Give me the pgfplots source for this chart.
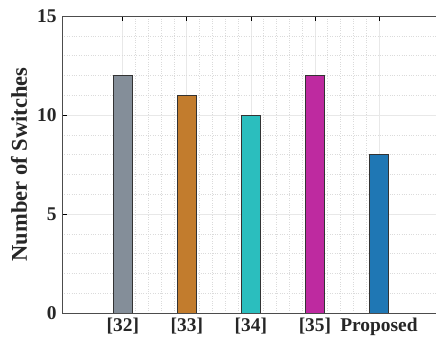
\documentclass[border=0pt]{standalone}
\usepackage{fontspec}
\setmainfont{Liberation Serif}
\usepackage{pgfplots}
\pgfplotsset{compat=1.18}
\definecolor{c32}{RGB}{132,142,153}
\definecolor{c33}{RGB}{194,124,45}
\definecolor{c34}{RGB}{43,190,190}
\definecolor{c35}{RGB}{190,42,160}
\definecolor{cprop}{RGB}{31,119,180}
\begin{document}
\begin{tikzpicture}
\begin{axis}[
  scale only axis,
  width=381bp, height=297bp,
  xmin=0.05, xmax=6, ymin=0, ymax=15,
  xtick={1,2,3,4,5},
  xticklabels={{[32]},{[33]},{[34]},{[35]},Proposed},
  ytick={0,5,10,15},
  minor x tick num=4,
  minor y tick num=4,
  grid=both,
  major grid style={draw=black!9, line width=0.8pt},
  minor grid style={draw=black!14, dotted, line width=0.5pt},
  axis line style={draw=black!70, line width=0.8pt},
  tick style={draw=black, line width=0.8pt},
  major tick length=5bp,
  minor tick length=0pt,
  tick align=inside,
  xtick pos=both, ytick pos=both,
  ticklabel style={font=\fontsize{19.5}{22}\selectfont\bfseries, text=black!85},
  /pgf/number format/assume math mode=true,
  ylabel={Number of Switches},
  every axis y label/.style={at={(rel axis cs:0,0.5)}, xshift=-43bp, rotate=90, anchor=center,
    font=\fontsize{22.6}{26}\selectfont\bfseries, text=black!85},
  xticklabel style={yshift=-2bp},
  yticklabel style={xshift=-2bp},
  bar width=19bp,
]
\addplot[ybar, fill=c32, draw=black!80, line width=0.7pt] coordinates {(1,12)};
\addplot[ybar, fill=c33, draw=black!80, line width=0.7pt] coordinates {(2,11)};
\addplot[ybar, fill=c34, draw=black!80, line width=0.7pt] coordinates {(3,10)};
\addplot[ybar, fill=c35, draw=black!80, line width=0.7pt] coordinates {(4,12)};
\addplot[ybar, fill=cprop, draw=black!80, line width=0.7pt] coordinates {(5,8)};
\end{axis}
\pgfresetboundingbox
\path[use as bounding box] ([shift={(-62bp,-32bp)}]current axis.south west) rectangle ([shift={(374bp,313bp)}]current axis.south west);
\end{tikzpicture}
\end{document}
